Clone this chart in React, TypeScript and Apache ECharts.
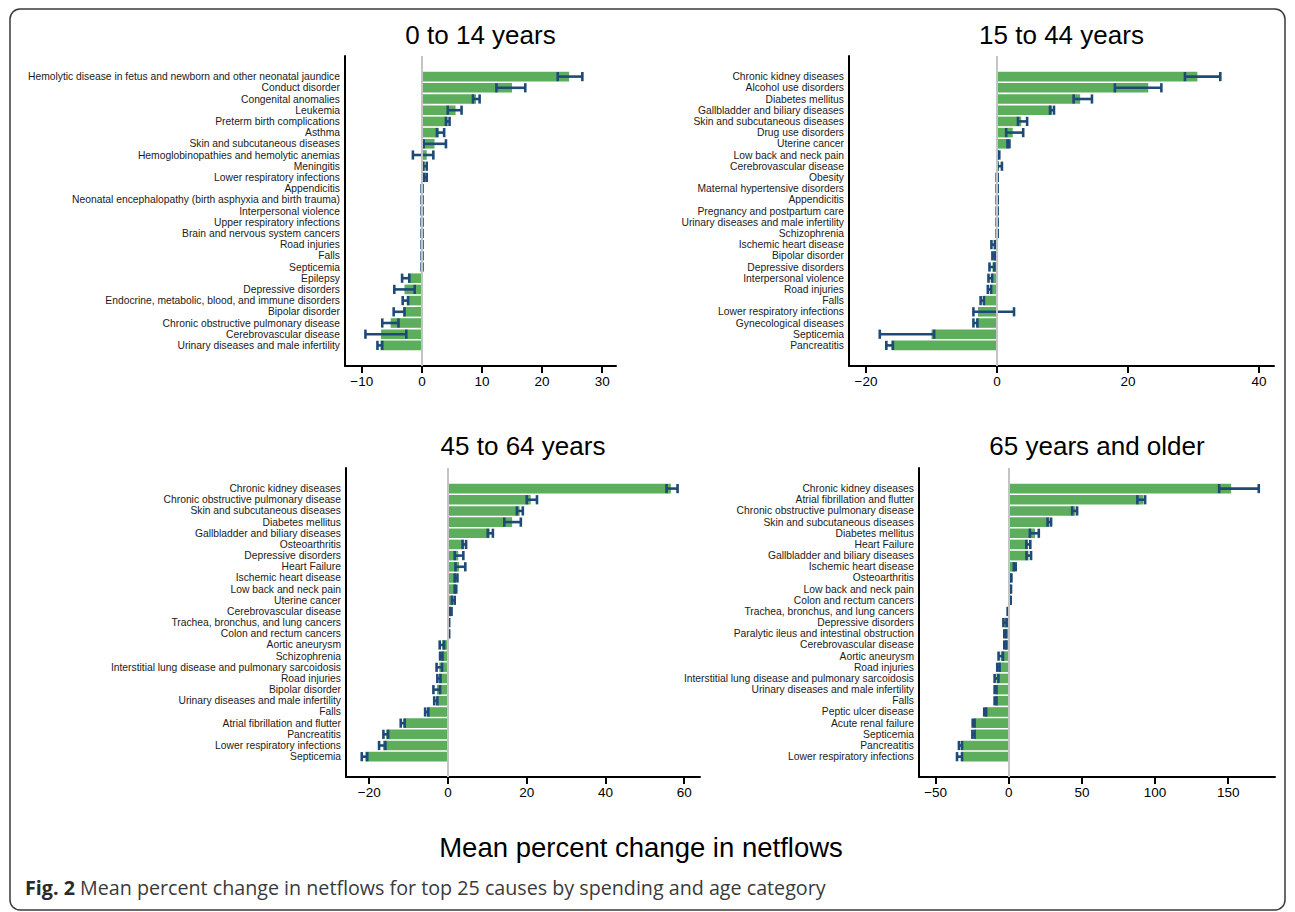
import React, { useEffect, useRef } from "react";
import * as echarts from "echarts";

// ---------- DATA ----------
const catsA = [
  "Hemolytic disease in fetus and newborn and other neonatal jaundice",
  "Conduct disorder",
  "Congenital anomalies",
  "Leukemia",
  "Preterm birth complications",
  "Asthma",
  "Skin and subcutaneous diseases",
  "Hemoglobinopathies and hemolytic anemias",
  "Meningitis",
  "Lower respiratory infections",
  "Appendicitis",
  "Neonatal encephalopathy (birth asphyxia and birth trauma)",
  "Interpersonal violence",
  "Upper respiratory infections",
  "Brain and nervous system cancers",
  "Road injuries",
  "Falls",
  "Septicemia",
  "Epilepsy",
  "Depressive disorders",
  "Endocrine, metabolic, blood, and immune disorders",
  "Bipolar disorder",
  "Chronic obstructive pulmonary disease",
  "Cerebrovascular disease",
  "Urinary diseases and male infertility",
];
const meanA = [24.5, 15.0, 9.0, 5.6, 4.3, 2.8, 2.1, 0.8, 0.5, 0.6, 0.05, 0.05, 0.04, 0.04, 0.03, 0.03, 0.03, 0.02, -2.3, -2.9, -2.5, -3.1, -5.2, -6.8, -6.9];
const loA = [22.6, 12.4, 8.5, 4.3, 4.0, 2.5, 0.3, -1.5, 0.2, 0.35, -0.05, -0.05, -0.05, -0.05, -0.05, -0.05, -0.05, -0.05, -3.3, -4.6, -3.2, -4.7, -6.6, -9.4, -7.4];
const hiA = [26.7, 17.2, 9.6, 6.6, 4.6, 3.7, 4.0, 1.9, 0.8, 0.8, 0.1, 0.1, 0.1, 0.1, 0.1, 0.1, 0.1, 0.1, -2.1, -1.2, -2.3, -2.9, -3.9, -2.6, -6.6];

const catsB = [
  "Chronic kidney diseases",
  "Alcohol use disorders",
  "Diabetes mellitus",
  "Gallbladder and biliary diseases",
  "Skin and subcutaneous diseases",
  "Drug use disorders",
  "Uterine cancer",
  "Low back and neck pain",
  "Cerebrovascular disease",
  "Obesity",
  "Maternal hypertensive disorders",
  "Appendicitis",
  "Pregnancy and postpartum care",
  "Urinary diseases and male infertility",
  "Schizophrenia",
  "Ischemic heart disease",
  "Bipolar disorder",
  "Depressive disorders",
  "Interpersonal violence",
  "Road injuries",
  "Falls",
  "Lower respiratory infections",
  "Gynecological diseases",
  "Septicemia",
  "Pancreatitis",
];
const meanB = [30.6, 23.1, 12.7, 8.4, 3.7, 2.4, 1.8, 0.3, 0.3, 0.05, 0.05, 0.05, 0.04, 0.04, 0.03, -0.5, -0.45, -0.7, -0.8, -1.0, -2.1, -2.9, -3.1, -10.0, -16.1];
const loB = [28.7, 18.0, 11.7, 8.1, 3.2, 1.4, 1.6, 0.1, 0.05, -0.05, -0.05, -0.05, -0.05, -0.05, -0.05, -0.85, -0.7, -1.15, -1.3, -1.4, -2.5, -3.6, -3.6, -17.9, -16.9];
const hiB = [34.1, 25.1, 14.5, 8.7, 4.6, 4.0, 1.9, 0.35, 0.75, 0.1, 0.1, 0.1, 0.1, 0.1, 0.1, -0.3, -0.35, -0.4, -0.75, -0.9, -2.0, 2.6, -3.0, -9.6, -15.9];

const catsC = [
  "Chronic kidney diseases",
  "Chronic obstructive pulmonary disease",
  "Skin and subcutaneous diseases",
  "Diabetes mellitus",
  "Gallbladder and biliary diseases",
  "Osteoarthritis",
  "Depressive disorders",
  "Heart Failure",
  "Ischemic heart disease",
  "Low back and neck pain",
  "Uterine cancer",
  "Cerebrovascular disease",
  "Trachea, bronchus, and lung cancers",
  "Colon and rectum cancers",
  "Aortic aneurysm",
  "Schizophrenia",
  "Interstitial lung disease and pulmonary sarcoidosis",
  "Road injuries",
  "Bipolar disorder",
  "Urinary diseases and male infertility",
  "Falls",
  "Atrial fibrillation and flutter",
  "Pancreatitis",
  "Lower respiratory infections",
  "Septicemia",
];
const meanC = [56.6, 21.0, 18.2, 16.3, 10.6, 4.1, 2.6, 2.8, 2.1, 1.9, 1.3, 0.7, 0.2, 0.2, -1.5, -1.7, -2.2, -2.3, -2.8, -2.9, -5.3, -11.3, -15.7, -16.5, -21.0];
const loC = [55.5, 20.0, 17.5, 14.3, 10.1, 3.7, 1.7, 1.9, 1.7, 1.7, 1.0, 0.4, 0.1, 0.1, -2.1, -2.0, -2.9, -2.7, -3.7, -3.5, -5.8, -12.0, -16.4, -17.5, -21.9];
const hiC = [58.3, 22.6, 19.0, 18.5, 11.4, 4.6, 3.9, 4.4, 2.4, 2.1, 1.7, 0.9, 0.3, 0.3, -1.0, -1.4, -1.5, -1.9, -2.0, -2.7, -5.0, -11.0, -15.2, -15.9, -20.5];

const catsD = [
  "Chronic kidney diseases",
  "Atrial fibrillation and flutter",
  "Chronic obstructive pulmonary disease",
  "Skin and subcutaneous diseases",
  "Diabetes mellitus",
  "Heart Failure",
  "Gallbladder and biliary diseases",
  "Ischemic heart disease",
  "Osteoarthritis",
  "Low back and neck pain",
  "Colon and rectum cancers",
  "Trachea, bronchus, and lung cancers",
  "Depressive disorders",
  "Paralytic ileus and intestinal obstruction",
  "Cerebrovascular disease",
  "Aortic aneurysm",
  "Road injuries",
  "Interstitial lung disease and pulmonary sarcoidosis",
  "Urinary diseases and male infertility",
  "Falls",
  "Peptic ulcer disease",
  "Acute renal failure",
  "Septicemia",
  "Pancreatitis",
  "Lower respiratory infections",
];
const meanD = [152, 92, 45.5, 27.8, 18.0, 13.0, 13.5, 4.0, 1.3, 1.1, 1.0, -0.5, -3.0, -2.5, -2.6, -5.5, -7.1, -8.5, -8.6, -8.6, -16.3, -23.5, -23.5, -32.2, -32.5];
const loD = [143.8, 87.9, 43.3, 26.5, 14.4, 12.0, 12.1, 3.4, 0.9, 0.8, 0.7, -0.8, -3.7, -3.1, -3.1, -7.0, -7.9, -9.7, -9.7, -9.7, -16.8, -24.7, -24.9, -34.1, -35.4];
const hiD = [170.9, 93.2, 46.7, 28.9, 20.5, 14.7, 15.2, 4.7, 1.8, 1.5, 1.3, -0.2, -1.5, -2.0, -1.8, -4.0, -6.3, -7.1, -8.4, -8.4, -15.5, -23.4, -23.4, -32.0, -32.0];

const ticksA = [-10, 0, 10, 20, 30];
const ticksB = [-20, 0, 20, 40];
const ticksC = [-20, 0, 20, 40, 60];
const ticksD = [-50, 0, 50, 100, 150];

const titles = ["0 to 14 years", "15 to 44 years", "45 to 64 years", "65 years and older"];
const xTitle = "Mean percent change in netflows";
const captionBold = "Fig. 2";
const captionText = " Mean percent change in netflows for top 25 causes by spending and age category";

// ---------- LAYOUT ----------
const FONT = "'Liberation Sans', Arial, Helvetica, sans-serif";
const GREEN = "#5cad5c";
const NAVY = "#1f4a78";

const panels = [
  { cats: catsA, mean: meanA, lo: loA, hi: hiA, ticks: ticksA, min: -12.8, max: 32.3, left: 345, right: 616, axTop: 56, axBot: 366, dTop: 71, step: 11.2, title: titles[0], ty: 35 },
  { cats: catsB, mean: meanB, lo: loB, hi: hiB, ticks: ticksB, min: -22.6, max: 42.3, left: 849, right: 1274, axTop: 56, axBot: 366, dTop: 71, step: 11.2, title: titles[1], ty: 35 },
  { cats: catsC, mean: meanC, lo: loC, hi: hiC, ticks: ticksC, min: -25.9, max: 64, left: 346, right: 700, axTop: 468, axBot: 777, dTop: 483, step: 11.17, title: titles[2], ty: 446 },
  { cats: catsD, mean: meanD, lo: loD, hi: hiD, ticks: ticksD, min: -61.4, max: 182, left: 919, right: 1275, axTop: 468, axBot: 777, dTop: 483, step: 11.17, title: titles[3], ty: 446 },
];

function buildOption() {
  const grid: any[] = [];
  const xAxis: any[] = [];
  const yAxis: any[] = [];
  const series: any[] = [];
  const graphic: any[] = [];

  panels.forEach((p, i) => {
    const w = p.right - p.left;
    const gAxis = i * 2;
    const gData = i * 2 + 1;
    grid.push({ left: p.left, top: p.axTop, width: w, height: p.axBot - p.axTop, containLabel: false, outerBoundsMode: "none" });
    grid.push({ left: p.left, top: p.dTop, width: w, height: p.step * p.cats.length, containLabel: false, outerBoundsMode: "none" });

    xAxis.push({
      type: "value", gridIndex: gAxis, min: p.min, max: p.max,
      splitLine: { show: false },
      axisLine: { show: true, onZero: false, lineStyle: { color: "#000", width: 2 } },
      axisTick: { show: true, customValues: p.ticks, length: 7, lineStyle: { color: "#000", width: 2 } },
      axisLabel: {
        show: true, customValues: p.ticks, margin: 8, fontSize: 13.5, color: "#000", fontFamily: FONT,
        formatter: (v: number) => String(v).replace("-", "\u2212"),
      },
    });
    xAxis.push({ type: "value", gridIndex: gData, min: p.min, max: p.max, show: false });

    yAxis.push({
      type: "value", gridIndex: gAxis, min: 0, max: 1,
      splitLine: { show: false },
      axisLine: { show: true, onZero: false, lineStyle: { color: "#000", width: 2 } },
      axisTick: { show: false }, axisLabel: { show: false },
    });
    yAxis.push({
      type: "category", gridIndex: gData, data: p.cats, inverse: true,
      axisLine: { show: false }, axisTick: { show: false },
      axisLabel: { fontSize: 10.3, color: "#1a1a1a", margin: 5, fontFamily: FONT, interval: 0 },
    });

    series.push({
      type: "line", xAxisIndex: gAxis, yAxisIndex: gAxis, data: [[0, 0.5]], showSymbol: false, symbol: "none",
      lineStyle: { opacity: 0 }, silent: true, z: 1,
      markLine: {
        silent: true, symbol: ["none", "none"], label: { show: false },
        lineStyle: { color: "#c4c4c4", width: 2, type: "solid" },
        data: [{ xAxis: 0 }],
      },
    });
    series.push({
      type: "bar", xAxisIndex: gData, yAxisIndex: gData, data: p.mean, barWidth: 9.6,
      itemStyle: { color: GREEN }, z: 2, silent: true,
    });
    series.push({
      type: "custom", xAxisIndex: gData, yAxisIndex: gData, z: 3, silent: true,
      data: p.lo.map((l, k) => [l, p.hi[k], k]),
      encode: { x: [0, 1], y: 2 },
      renderItem: (params: any, api: any) => {
        const idx = api.value(2);
        const a = api.coord([api.value(0), idx]);
        const b = api.coord([api.value(1), idx]);
        const h = 4.6;
        const st = { stroke: NAVY, lineWidth: 2.6 };
        return {
          type: "group",
          children: [
            { type: "line", shape: { x1: a[0], y1: a[1], x2: b[0], y2: b[1] }, style: st },
            { type: "line", shape: { x1: a[0], y1: a[1] - h, x2: a[0], y2: a[1] + h }, style: st },
            { type: "line", shape: { x1: b[0], y1: b[1] - h, x2: b[0], y2: b[1] + h }, style: st },
          ],
        };
      },
    });

    graphic.push({
      type: "text", x: (p.left + p.right) / 2, y: p.ty,
      style: { text: p.title, fontSize: 26, fill: "#000", fontFamily: FONT, align: "center", verticalAlign: "middle" },
    });
  });

  graphic.push({
    type: "rect", shape: { x: 10, y: 9, width: 1275, height: 901, r: 10 },
    style: { fill: "none", stroke: "#3a3a3a", lineWidth: 1.5 }, z: -1,
  });
  graphic.push({
    type: "text", x: 641, y: 847,
    style: { text: xTitle, fontSize: 27.5, fill: "#000", fontFamily: FONT, align: "center", verticalAlign: "middle" },
  });
  graphic.push({
    type: "text", x: 25, y: 887,
    style: {
      text: "{b|" + captionBold + "}{n|" + captionText + "}",
      align: "left", verticalAlign: "middle",
      rich: {
        b: { fontSize: 19.7, fontWeight: "bold", fill: "#2a2a2a", fontFamily: "'Open Sans', sans-serif" },
        n: { fontSize: 19.7, fill: "#3a3a3a", fontFamily: "'Open Sans', sans-serif" },
      },
    },
  });

  return { animation: false, backgroundColor: "#fff", grid, xAxis, yAxis, series, graphic };
}

export default function App() {
  const ref = useRef<HTMLDivElement>(null);
  useEffect(() => {
    document.body.style.margin = "0";
    if (!ref.current) return;
    const chart = echarts.init(ref.current, undefined, { renderer: "svg" });
    chart.setOption(buildOption() as any);
    return () => chart.dispose();
  }, []);
  return <div ref={ref} style={{ width: 1295, height: 912 }} />;
}
